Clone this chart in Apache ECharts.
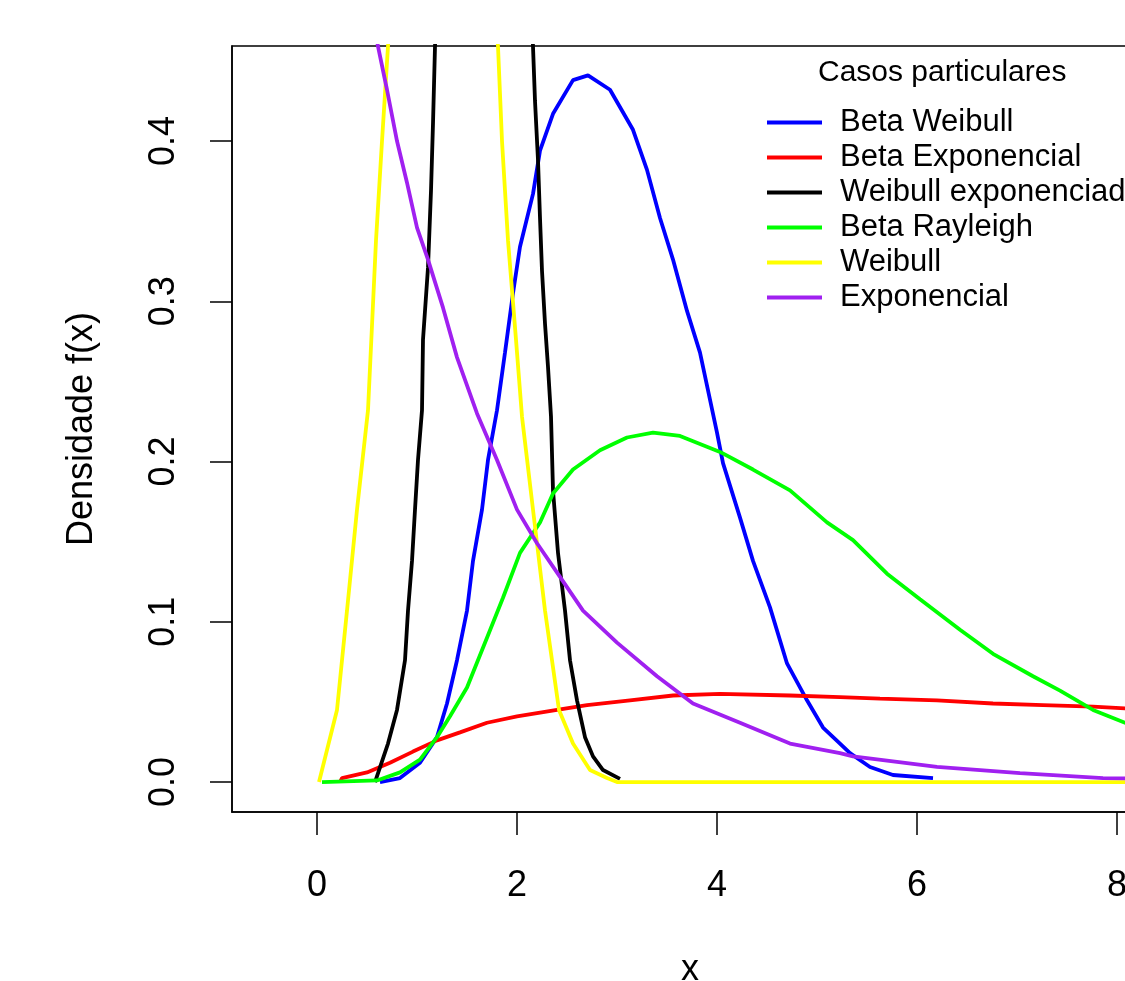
<!DOCTYPE html>
<html>
<head>
<meta charset="utf-8">
<script src="https://cdn.jsdelivr.net/npm/echarts@6/dist/echarts.min.js"></script>
<style>
html,body{margin:0;padding:0;background:#fff;}
#chart{width:1125px;height:981px;}
</style>
</head>
<body>
<div id="chart"></div>
<script>
// ---- data ----
const seriesNames = ['Beta Weibull', 'Beta Exponencial', 'Weibull exponenciado', 'Beta Rayleigh', 'Weibull', 'Exponencial'];
const seriesColors = ['#0000FF', '#FF0000', '#000000', '#00FF00', '#FFFF00', '#A020F0'];
const xTicks = [0, 2, 4, 6, 8];
const yTicks = [0, 0.1, 0.2, 0.3, 0.4];

const betaWeibullX = [0.63, 0.83, 1.03, 1.20, 1.30, 1.40, 1.50, 1.56, 1.65, 1.71, 1.80, 1.88, 1.96, 2.03, 2.16, 2.23, 2.36, 2.56, 2.71, 2.93, 3.16, 3.30, 3.43, 3.56, 3.70, 3.83, 4.00, 4.06, 4.23, 4.36, 4.53, 4.70, 4.90, 5.06, 5.23, 5.33, 5.53, 5.76, 6.16];
const betaWeibullY = [0.000, 0.0025, 0.012, 0.028, 0.049, 0.076, 0.107, 0.138, 0.170, 0.201, 0.232, 0.268, 0.305, 0.334, 0.367, 0.394, 0.417, 0.438, 0.441, 0.432, 0.407, 0.382, 0.352, 0.326, 0.294, 0.268, 0.218, 0.199, 0.165, 0.138, 0.109, 0.074, 0.051, 0.034, 0.024, 0.018, 0.0094, 0.0044, 0.0025];

const betaExpX = [0.23, 0.25, 0.50, 0.73, 0.96, 1.20, 1.43, 1.70, 2.00, 2.40, 2.70, 3.13, 3.56, 4.03, 4.73, 5.23, 5.63, 6.20, 6.76, 7.26, 7.76, 8.08, 8.35];
const betaExpY = [0.000, 0.0025, 0.006, 0.012, 0.019, 0.026, 0.031, 0.037, 0.041, 0.045, 0.048, 0.051, 0.054, 0.055, 0.054, 0.053, 0.052, 0.051, 0.049, 0.048, 0.047, 0.046, 0.045];

const weibExpX = [0.58, 0.71, 0.80, 0.88, 0.91, 0.95, 0.98, 1.01, 1.05, 1.06, 1.11, 1.14, 1.16, 1.18, 1.30, 1.45, 1.65, 1.85, 2.00, 2.10, 2.16, 2.18, 2.21, 2.23, 2.25, 2.28, 2.31, 2.34, 2.36, 2.41, 2.48, 2.53, 2.60, 2.68, 2.76, 2.86, 3.03];
const weibExpY = [0.000, 0.024, 0.045, 0.076, 0.107, 0.138, 0.170, 0.201, 0.232, 0.276, 0.321, 0.369, 0.411, 0.459, 0.660, 0.780, 0.830, 0.780, 0.670, 0.560, 0.459, 0.425, 0.388, 0.352, 0.319, 0.286, 0.259, 0.228, 0.182, 0.143, 0.107, 0.076, 0.051, 0.028, 0.016, 0.0075, 0.002];

const betaRayX = [0.05, 0.60, 0.83, 1.03, 1.20, 1.33, 1.50, 1.70, 1.86, 2.03, 2.23, 2.36, 2.56, 2.83, 3.10, 3.36, 3.63, 4.03, 4.36, 4.73, 5.10, 5.36, 5.70, 6.03, 6.43, 6.76, 7.16, 7.43, 7.76, 8.08, 8.35];
const betaRayY = [0.000, 0.001, 0.006, 0.014, 0.028, 0.041, 0.059, 0.090, 0.115, 0.143, 0.162, 0.180, 0.195, 0.207, 0.215, 0.218, 0.216, 0.206, 0.195, 0.182, 0.162, 0.151, 0.130, 0.114, 0.095, 0.080, 0.066, 0.057, 0.045, 0.037, 0.031];

const weibullX = [0.02, 0.20, 0.30, 0.40, 0.51, 0.59, 0.65, 0.71, 0.80, 1.00, 1.25, 1.50, 1.70, 1.81, 1.85, 1.91, 1.99, 2.05, 2.16, 2.28, 2.42, 2.56, 2.73, 2.90, 3.00, 4.00, 6.00, 8.35];
const weibullY = [0.000, 0.045, 0.107, 0.170, 0.232, 0.338, 0.400, 0.459, 0.540, 0.680, 0.750, 0.680, 0.550, 0.459, 0.400, 0.338, 0.276, 0.228, 0.170, 0.107, 0.045, 0.024, 0.0075, 0.0025, 0.000, 0.000, 0.000, 0.000];

const expX = [0.00, 0.30, 0.61, 0.70, 0.80, 0.90, 1.00, 1.11, 1.26, 1.40, 1.60, 1.80, 2.00, 2.20, 2.43, 2.66, 3.00, 3.40, 3.76, 4.23, 4.73, 5.23, 5.36, 6.20, 7.03, 7.86, 8.35];
const expY = [0.700, 0.570, 0.459, 0.432, 0.400, 0.374, 0.346, 0.326, 0.296, 0.265, 0.230, 0.201, 0.170, 0.149, 0.128, 0.107, 0.087, 0.066, 0.049, 0.037, 0.024, 0.018, 0.016, 0.0094, 0.0056, 0.0025, 0.002];

const allX = [betaWeibullX, betaExpX, weibExpX, betaRayX, weibullX, expX];
const allY = [betaWeibullY, betaExpY, weibExpY, betaRayY, weibullY, expY];

// ---- chart ----
const FONT = "'Liberation Sans', Arial, sans-serif";
const chart = echarts.init(document.getElementById('chart'), null, {renderer: 'canvas'});

const series = seriesNames.map((name, i) => ({
  name: name,
  type: 'line',
  data: allX[i].map((x, k) => [x, allY[i][k]]),
  showSymbol: false,
  symbol: 'none',
  smooth: false,
  clip: true,
  lineStyle: {color: seriesColors[i], width: 3.8},
  itemStyle: {color: seriesColors[i]},
  emphasis: {disabled: true},
  animation: false
}));

chart.setOption({
  animation: false,
  backgroundColor: '#ffffff',
  grid: {
    left: 232, top: 46, width: 916, height: 766,
    outerBoundsMode: 'none',
    containLabel: false,
    show: true, borderColor: '#000000', borderWidth: 1.5, backgroundColor: 'transparent'
  },
  xAxis: {
    type: 'value',
    min: -0.85, max: 8.31,
    name: 'x',
    nameLocation: 'middle',
    nameGap: 140,
    nameTextStyle: {fontFamily: FONT, fontSize: 36, color: '#000'},
    axisLine: {show: true, onZero: false, lineStyle: {color: '#000', width: 1.5}},
    axisTick: {show: true, customValues: xTicks, length: 23, lineStyle: {color: '#000', width: 1.5}},
    axisLabel: {show: true, customValues: xTicks, margin: 56, fontFamily: FONT, fontSize: 36, color: '#000',
      formatter: v => String(v)},
    splitLine: {show: false}
  },
  yAxis: {
    type: 'value',
    min: -0.0187, max: 0.4593,
    name: 'Densidade f(x)',
    nameLocation: 'middle',
    nameGap: 132,
    nameRotate: 90,
    nameTextStyle: {fontFamily: FONT, fontSize: 36, color: '#000'},
    axisLine: {show: true, onZero: false, lineStyle: {color: '#000', width: 1.5}},
    axisTick: {show: true, customValues: yTicks, length: 22, lineStyle: {color: '#000', width: 1.5}},
    axisLabel: {show: true, customValues: yTicks, rotate: 90, margin: 50, fontFamily: FONT, fontSize: 36, color: '#000',
      formatter: v => v.toFixed(1)},
    splitLine: {show: false}
  },
  legend: {
    show: true,
    orient: 'vertical',
    left: 762,
    top: 100,
    itemWidth: 55,
    itemHeight: 4,
    itemGap: 0,
    icon: 'rect',
    data: seriesNames,
    selectedMode: false,
    textStyle: {fontFamily: FONT, fontSize: 31, color: '#000', lineHeight: 35, padding: [0, 0, 0, 13]}
  },
  graphic: [{
    type: 'text',
    left: 818,
    top: 58,
    style: {text: 'Casos particulares', fontFamily: FONT, fontSize: 30, fill: '#000'}
  }],
  series: series
});
</script>
</body>
</html>
